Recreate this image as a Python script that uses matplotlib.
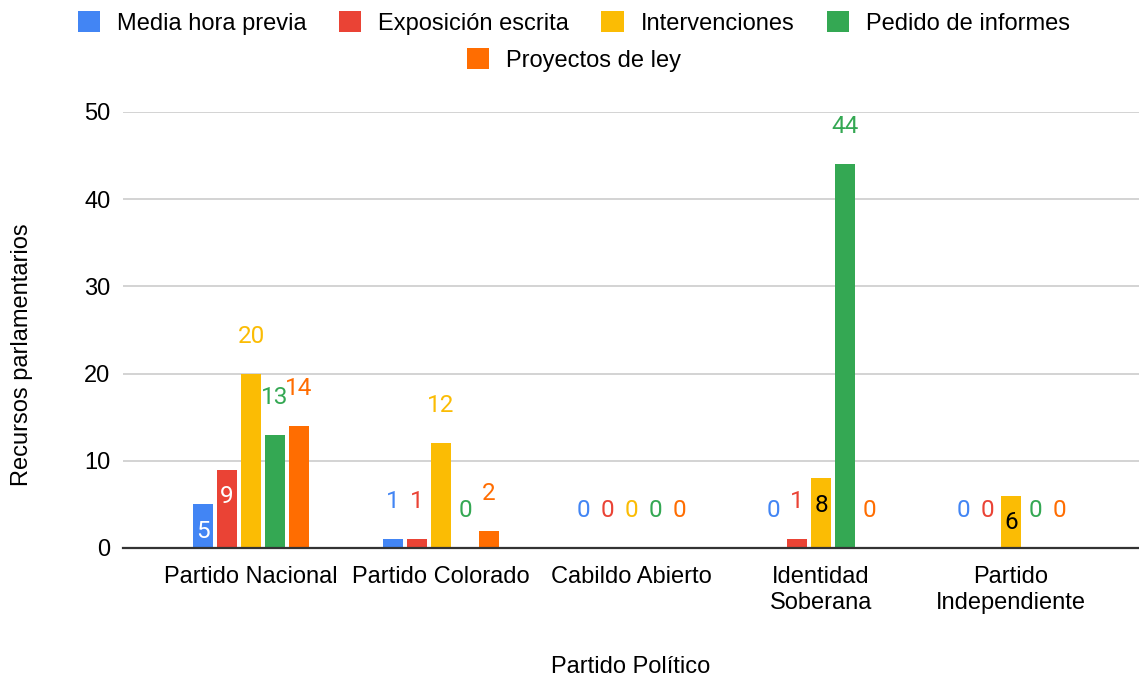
import matplotlib
matplotlib.use("Agg")
import matplotlib.pyplot as plt
import numpy as np

categories = ["Partido Nacional", "Partido Colorado", "Cabildo Abierto",
              "Identidad\nSoberana", "Partido\nIndependiente"]
series_names = ["Media hora previa", "Exposición escrita", "Intervenciones",
                "Pedido de informes", "Proyectos de ley"]
media_hora_previa = [5, 1, 0, 0, 0]
exposicion_escrita = [9, 1, 0, 1, 0]
intervenciones = [20, 12, 0, 8, 6]
pedido_de_informes = [13, 0, 0, 44, 0]
proyectos_de_ley = [14, 2, 0, 0, 0]
series_values = [media_hora_previa, exposicion_escrita, intervenciones,
                 pedido_de_informes, proyectos_de_ley]
y_ticks = [0, 10, 20, 30, 40, 50]

colors = ["#4285F4", "#EA4335", "#FBBC04", "#34A853", "#FF6D01"]
inside_color = ["white", "white", "black", "white", "white"]
# label placement (series index, category index) drawn inside the bar
inside_labels = {(0, 0), (1, 0), (2, 3), (2, 4)}

W, H = 1139, 679
fig = plt.figure(figsize=(W / 100, H / 100), dpi=100)
ax = fig.add_axes([123 / W, (H - 548) / H, 1016 / W, 436 / H])

tick_font = "Liberation Sans"
label_font = "Roboto"

x = np.arange(len(categories))
bw = 20 / 190
pitch = 24 / 190
n = len(series_values)
bars_all = []
for i, (vals, col) in enumerate(zip(series_values, colors)):
    off = (i - (n - 1) / 2) * pitch
    bars = ax.bar(x + off, vals, width=bw, color=col, zorder=3,
                  label=series_names[i])
    bars_all.append(bars)
    for j, (b, v) in enumerate(zip(bars, vals)):
        cx = b.get_x() + b.get_width() / 2
        if (i, j) in inside_labels:
            ax.annotate(str(v), (cx, v), xytext=(0, -19.5), textcoords="offset points",
                        ha="center", va="center", color=inside_color[i],
                        fontsize=17.5, family=label_font, zorder=5)
        else:
            ax.annotate(str(v), (cx, v), xytext=(0, 27), textcoords="offset points",
                        ha="center", va="center", color=col,
                        fontsize=17.5, family=label_font, zorder=5)

ax.set_xlim(-0.674, 4.674)
ax.set_ylim(0, 50)
ax.set_yticks(y_ticks)
ax.set_yticklabels([str(t) for t in y_ticks], family=tick_font, fontsize=17)
ax.set_xticks(x)
ax.set_xticklabels(categories, family=tick_font, fontsize=17, linespacing=1.25)
ax.tick_params(axis="both", length=0)
ax.tick_params(axis="y", pad=9)
ax.tick_params(axis="x", pad=13)
ax.grid(axis="y", color="#cccccc", linewidth=1.2, zorder=0)
for s in ["top", "right", "left"]:
    ax.spines[s].set_visible(False)
ax.spines["bottom"].set_color("#333333")
ax.spines["bottom"].set_linewidth(1.6)
ax.spines["bottom"].set_zorder(4)

fig.text(22 / W, 1 - 355 / H, "Recursos parlamentarios", rotation=90,
         ha="center", va="center", family=tick_font, fontsize=17)
fig.text(631 / W, 1 - 667 / H, "Partido Político", ha="center", va="center",
         family=tick_font, fontsize=17)

leg_kw = dict(frameon=False, prop={"family": tick_font, "size": 17},
              handlelength=0.95, handleheight=0.95, handletextpad=0.72,
              columnspacing=1.36, borderpad=0, borderaxespad=0)
leg1 = fig.legend(bars_all[:4], series_names[:4], loc="center", ncol=4,
                  bbox_to_anchor=(574 / W, 1 - 23 / H), **leg_kw)
leg2 = fig.legend(bars_all[4:], series_names[4:], loc="center", ncol=1,
                  bbox_to_anchor=(574 / W, 1 - 60 / H), **leg_kw)

fig.savefig("out.png", dpi=100)
